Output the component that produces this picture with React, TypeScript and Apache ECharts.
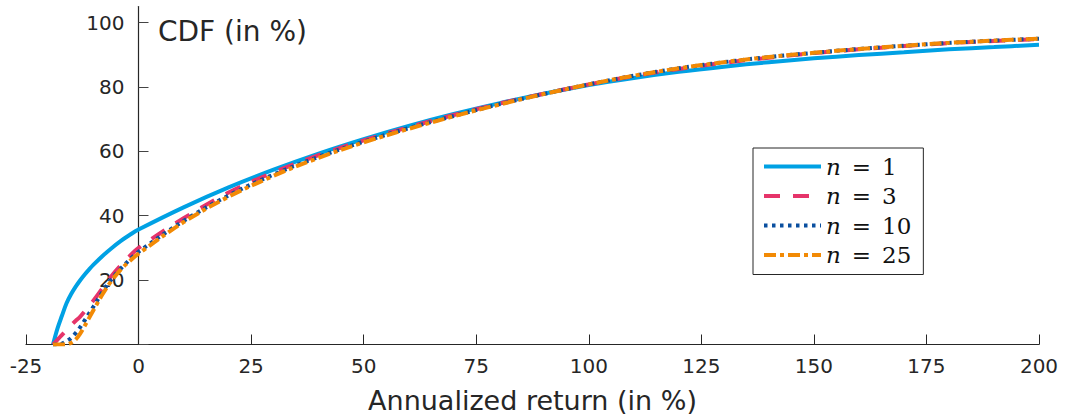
import React, { useEffect, useRef } from "react";
import * as echarts from "echarts";

// Annualized return (in %) – shared x grid
const returns = [-19, -18, -17, -16, -15, -14, -13, -12, -11, -10, -8, -6, -4, -2, 0, 10, 20, 30, 40, 50, 60, 70, 80, 90, 100, 110, 120, 130, 140, 150, 160, 170, 180, 190, 200];

// CDF (in %) for each horizon
const cdfN1 = [0, 5, 9, 12.8, 15.6, 17.9, 19.9, 21.7, 23.3, 24.8, 27.5, 29.9, 32.1, 34, 35.7, 42.6, 48.8, 54.3, 59.3, 63.8, 67.9, 71.6, 74.9, 77.9, 80.6, 82.8, 84.7, 86.3, 87.7, 88.9, 89.9, 90.8, 91.7, 92.4, 93.1];
const cdfN3 = [0, 1.5, 3, 4.5, 6, 7.3, 8.6, 10.2, 12, 13.7, 17.5, 21.3, 24.5, 27.4, 30, 39.2, 47.2, 53.5, 58.8, 63.4, 67.5, 71.3, 74.8, 77.9, 80.8, 83.4, 85.6, 87.5, 89.1, 90.5, 91.7, 92.7, 93.6, 94.3, 94.9];
const cdfN10 = [0, 0, 0.3, 1, 2, 3.5, 5.3, 7.4, 9.6, 11.8, 16.3, 20.3, 23.5, 26.3, 28.8, 38.4, 46.3, 52.8, 58.3, 63, 67.2, 71, 74.6, 77.8, 80.8, 83.5, 85.8, 87.7, 89.3, 90.6, 91.8, 92.8, 93.7, 94.4, 95];
const cdfN25 = [0, 0, 0, 0, 0.5, 1.5, 3.3, 5.7, 8.2, 10.7, 15.6, 19.8, 23.2, 25.9, 28.2, 38, 45.9, 52.4, 58, 62.8, 67, 70.9, 74.5, 77.8, 80.8, 83.5, 85.8, 87.7, 89.3, 90.6, 91.8, 92.8, 93.7, 94.4, 95];

const seriesNames = ["n = 1", "n = 3", "n = 10", "n = 25"];
const seriesValues = [cdfN1, cdfN3, cdfN10, cdfN25];
const seriesColors = ["#00a1e4", "#e6346a", "#0a4f9f", "#f28a05"];
const seriesDash: any[] = ["solid", [16, 13], [3.5, 4.5], [12, 4, 4, 4]];

const xTicks = [-25, 0, 25, 50, 75, 100, 125, 150, 175, 200];
const yTicks = [0, 20, 40, 60, 80, 100];
const yLabels = [20, 40, 60, 80, 100];

const AXIS_COLOR = "#262626";
const SANS = "DejaVu Sans";
const SERIF = "DejaVu Serif";

export default function App() {
  const ref = useRef<HTMLDivElement>(null);

  useEffect(() => {
    if (!ref.current) return;
    const chart = echarts.init(ref.current, undefined, { renderer: "svg" });

    const series = seriesNames.map((name, i) => ({
      name,
      type: "line",
      data: returns.map((x, j) => [x, seriesValues[i][j]]),
      showSymbol: false,
      symbol: "none",
      smooth: 0.35,
      lineStyle: { color: seriesColors[i], width: 4, type: seriesDash[i] },
      itemStyle: { color: seriesColors[i] },
      z: 2 + i,
    }));

    chart.setOption({
      animation: false,
      backgroundColor: "#ffffff",
      title: {
        text: "CDF (in %)",
        left: 153,
        top: 12,
        textStyle: { fontFamily: SANS, fontSize: 28, fontWeight: "normal", color: AXIS_COLOR },
      },
      grid: { left: 26, right: 26, top: 6.5, bottom: 71.5, containLabel: false, outerBoundsMode: "none" },
      xAxis: {
        type: "value",
        min: -25,
        max: 200,
        interval: 25,
        name: "Annualized return (in %)",
        nameLocation: "middle",
        nameGap: 42,
        nameTextStyle: { fontFamily: SANS, fontSize: 27, color: AXIS_COLOR },
        axisLine: { show: true, lineStyle: { color: AXIS_COLOR, width: 1.2 } },
        axisTick: { show: true, inside: true, length: 10, customValues: xTicks, lineStyle: { color: AXIS_COLOR } },
        axisLabel: {
          show: true,
          margin: 11,
          customValues: xTicks,
          fontFamily: SANS,
          fontSize: 20,
          color: AXIS_COLOR,
          showMinLabel: true,
          showMaxLabel: true,
        },
        splitLine: { show: false },
      },
      yAxis: {
        type: "value",
        min: 0,
        max: 105,
        interval: 20,
        position: "left",
        offset: -112.5,
        axisLine: { show: true, onZero: false, lineStyle: { color: AXIS_COLOR, width: 1.2 } },
        axisTick: { show: true, inside: true, length: 10, customValues: yTicks, lineStyle: { color: "#444" } },
        axisLabel: {
          show: true,
          margin: 14,
          customValues: yLabels,
          fontFamily: SANS,
          fontSize: 20,
          color: AXIS_COLOR,
          formatter: (v: number) => (v > 0 && v % 20 === 0 ? String(v) : ""),
        },
        splitLine: { show: false },
      },
      legend: {
        show: true,
        orient: "vertical",
        left: 753,
        top: 148,
        itemWidth: 57,
        itemHeight: 14,
        itemGap: 6.5,
        padding: [7, 12, 8, 9],
        borderColor: AXIS_COLOR,
        borderWidth: 1,
        backgroundColor: "#ffffff",
        data: seriesNames,
        itemStyle: { color: "rgba(0,0,0,0)", borderWidth: 0, opacity: 0 },
        lineStyle: { width: 4 },
        formatter: (name: string) => {
          const v = name.split("=")[1].trim();
          return `{n|n}{eq|=}{v|${v}}`;
        },
        textStyle: {
          color: "#111",
          rich: {
            n: { fontFamily: SERIF, fontStyle: "italic", fontSize: 23, lineHeight: 26, color: "#111" },
            eq: { fontFamily: SERIF, fontSize: 23, lineHeight: 26, padding: [0, 11, 0, 11], color: "#111" },
            v: { fontFamily: SERIF, fontSize: 23, lineHeight: 26, color: "#111" },
          },
        },
      },
      series,
    } as any);

    return () => chart.dispose();
  }, []);

  return (
    <div
      ref={ref}
      style={{ position: "fixed", left: 0, top: 0, width: 1065, height: 416, background: "#fff" }}
    />
  );
}
